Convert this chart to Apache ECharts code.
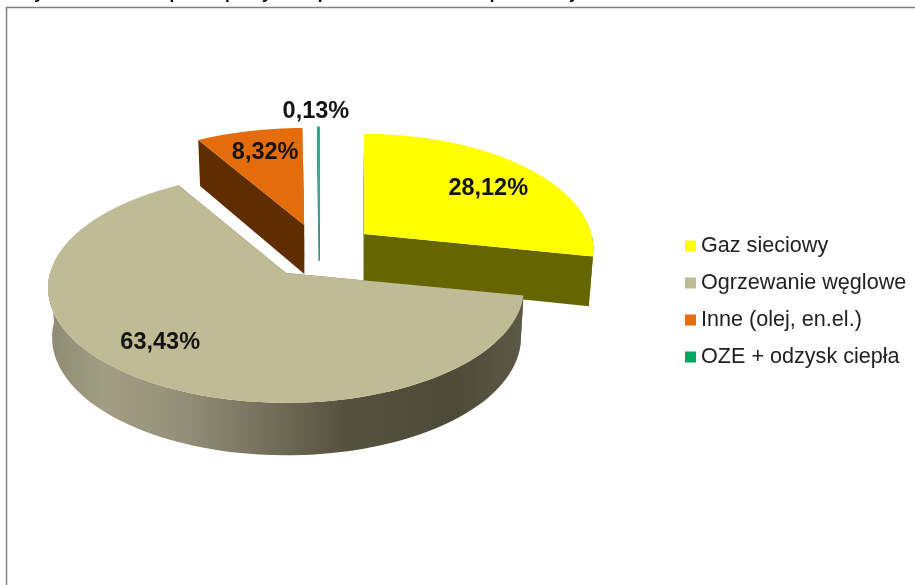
<!DOCTYPE html>
<html><head><meta charset="utf-8">
<style>html,body{margin:0;padding:0;background:#fff}#c{width:915px;height:585px}</style>
<script src="https://cdn.jsdelivr.net/npm/echarts@6/dist/echarts.min.js"></script>
</head><body><div id="c"></div>
<script>
const categories = ['Gaz sieciowy', 'Ogrzewanie węglowe', 'Inne (olej, en.el.)', 'OZE + odzysk ciepła'];
const shares = [28.12, 63.43, 8.32, 0.13];
const titleText = 'Rysunek 11.        Sposób pokrycia zapotrzebowania na ciepło w budynkach';

const topColors = ['#FFFF00', '#BFBB94', '#E46C0A', '#00A860'];
const wallColors = ['#666600', '#6E6A55', '#5F2D00', '#3E8E84'];
const zOrder = [3, 4, 1, 2];
const wallDepth = [1, 1, 1, 0.75];
const labelReach = [[0.68, 0.627], [0.92, 0.76], [0.62, 0.67], [0.35, 1.0]];
const sliceScale = [[0.963, 1], [1, 1], [0.985, 0.97], [1, 0.97]];

const CX = 319.5, CY = 251, RX = 236, RY = 113, TILT_Y = 110, PERSP = 0.13, EXPLODE = 0.245, WALL = 49;
const total = shares.reduce((a, b) => a + b, 0);
const rad = d => d * Math.PI / 180;

function slice(i) {
  const before = shares.slice(0, i).reduce((a, b) => a + b, 0);
  const a0 = before / total * 360, a1 = (before + shares[i]) / total * 360, mid = (a0 + a1) / 2;
  const ax = CX + EXPLODE * RX * Math.sin(rad(mid));
  const ay = CY - EXPLODE * TILT_Y * Math.cos(rad(mid));
  const top = (r, deg) => {
    const X = r * Math.sin(rad(deg)), Y = r * Math.cos(rad(deg)), s = 1 / (1 + PERSP * Y);
    return [ax + RX * sliceScale[i][0] * X * s, ay - RY * sliceScale[i][1] * Y * s];
  };
  const bottom = (r, deg) => {
    const p = top(r, deg), Y = r * Math.cos(rad(deg));
    return [p[0] + (CX - p[0]) * 0.015, p[1] + WALL * wallDepth[i] * (1 - 0.07 * Y)];
  };
  return {a0, a1, mid, ax, ay, top, bottom};
}

function arc(fn, from, to) {
  const pts = [], n = Math.max(1, Math.ceil(Math.abs(to - from) / 2));
  for (let k = 0; k <= n; k++) pts.push(fn(1, from + (to - from) * k / n));
  return pts;
}

function renderSlice(i) {
  return function (params, api) {
    api.value(0);
    const g = slice(i), kids = [];
    const thin = shares[i] < 1;
    const stroke = c => thin ? {stroke: c, lineWidth: 1.2} : {};
    const face = deg => ({type: 'polygon',
      shape: {points: [g.top(0, 0), g.top(1, deg), g.bottom(1, deg), g.bottom(0, 0)]},
      style: Object.assign({fill: wallColors[i]}, stroke(wallColors[i]))});
    kids.push(face(g.a0), face(g.a1));
    const w0 = Math.max(g.a0, 90), w1 = Math.min(g.a1, 270);
    if (w1 > w0) {
      const fill = i === 1 ? {type: 'linear', x: 0, y: 0, x2: 1, y2: 0, colorStops: [
        {offset: 0, color: '#8E8B72'}, {offset: 0.12, color: '#A29E84'}, {offset: 0.28, color: '#948F78'},
        {offset: 0.42, color: '#7C7761'}, {offset: 0.62, color: '#565240'}, {offset: 0.85, color: '#4E4A39'},
        {offset: 1, color: '#5C5947'}]} : wallColors[i];
      kids.push({type: 'polygon',
        shape: {points: arc(g.top, w0, w1).concat(arc(g.bottom, w1, w0))},
        style: {fill}});
    }
    kids.push({type: 'polygon',
      shape: {points: [g.top(0, 0)].concat(arc(g.top, g.a0, g.a1))},
      style: Object.assign({fill: topColors[i]}, stroke(thin ? '#3FA890' : topColors[i]))});
    const lx = g.ax + RX * labelReach[i][0] * Math.sin(rad(g.mid)) - (thin ? 3 : 0);
    const ly = g.ay - RY * labelReach[i][1] * Math.cos(rad(g.mid));
    kids.push({type: 'text', z2: 10, style: {
      x: lx, y: ly, text: shares[i].toFixed(2).replace('.', ',') + '%',
      fill: '#141414', font: 'bold 23.5px "Liberation Sans", Arial, sans-serif',
      align: 'center', verticalAlign: 'middle'}});
    return {type: 'group', children: kids};
  };
}

const chart = echarts.init(document.getElementById('c'), null, {renderer: 'canvas'});
chart.setOption({
  animation: false,
  backgroundColor: '#fff',
  title: {text: titleText, left: 22, top: -14, padding: 0,
    textStyle: {fontFamily: '"Liberation Sans", Arial, sans-serif', fontWeight: 'bold', fontSize: 17, color: '#000'}},
  legend: {
    orient: 'vertical', left: 680, top: 230, itemWidth: 11, itemHeight: 11, itemGap: 15,
    icon: 'rect', selectedMode: false, data: categories,
    textStyle: {fontFamily: '"Liberation Sans", Arial, sans-serif', fontSize: 21.6, color: '#222'}
  },
  graphic: [{type: 'polyline', silent: true, shape: {points: [[6.5, 585], [6.5, 7.5], [915, 7.5]]},
    style: {stroke: '#808080', lineWidth: 1.5, fill: null}}],
  series: categories.map((name, i) => ({
    type: 'custom', name, coordinateSystem: 'none', z: zOrder[i], clip: false,
    itemStyle: {color: topColors[i]},
    data: [[shares[i]]],
    renderItem: renderSlice(i)
  }))
});
</script></body></html>
